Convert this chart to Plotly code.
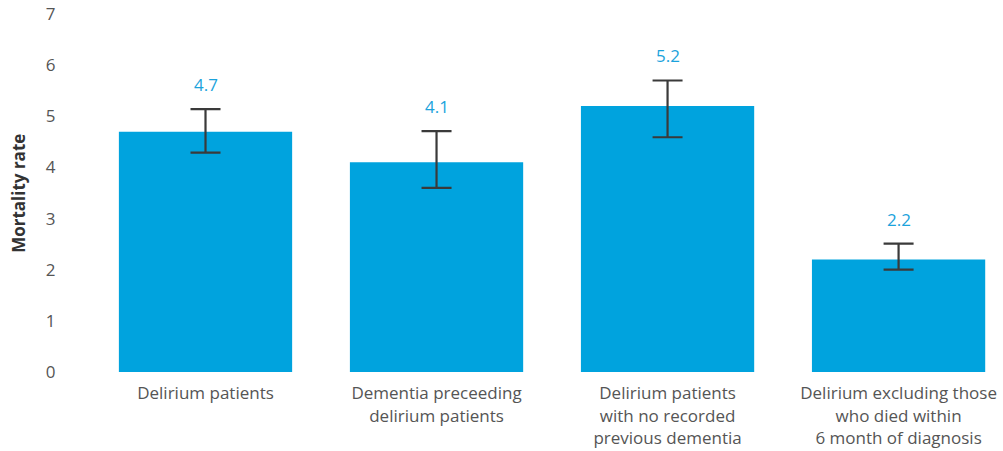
import plotly.graph_objects as go

categories = [
    "Delirium patients",
    "Dementia preceeding<br>delirium patients",
    "Delirium patients<br>with no recorded<br>previous dementia",
    "Delirium excluding those<br>who died within<br>6 month of diagnosis",
]
rates = [4.7, 4.1, 5.2, 2.2]
upper = [5.14, 4.71, 5.70, 2.51]
lower = [4.29, 3.60, 4.59, 2.00]
value_labels = ["4.7", "4.1", "5.2", "2.2"]

err_plus = [u - r for u, r in zip(upper, rates)]
err_minus = [r - l for r, l in zip(rates, lower)]

BAR = "#00A3DE"
FONT = "Open Sans"

fig = go.Figure()
fig.add_trace(go.Bar(
    x=categories, y=rates,
    marker=dict(color=BAR, line=dict(width=0)),
    error_y=dict(type="data", symmetric=False, array=err_plus, arrayminus=err_minus,
                 color="#3a3a3a", thickness=2.2, width=15),
    hoverinfo="skip",
))

for c, u, t in zip(categories, upper, value_labels):
    fig.add_annotation(x=c, y=u, text=t, showarrow=False, yanchor="bottom", yshift=11,
                       font=dict(family=FONT, size=17, color="#1ba3dc"))

fig.add_annotation(xref="paper", yref="paper", x=-0.079, y=0.5, xanchor="center",
                   yanchor="middle", text="<b>Mortality rate</b>",
                   textangle=-90, showarrow=False,
                   font=dict(family=FONT, size=17, color="#333333"))

fig.update_layout(
    width=1003, height=451,
    margin=dict(l=90, r=0, t=14, b=79, autoexpand=False),
    paper_bgcolor="white", plot_bgcolor="white",
    bargap=0.25,
    showlegend=False,
    font=dict(family=FONT, size=16, color="#555555"),
    xaxis=dict(range=[-0.5, 3.452], showgrid=False, zeroline=False, showline=False,
               automargin=False,
               ticks="outside", ticklen=6, tickcolor="rgba(0,0,0,0)",
               tickfont=dict(family=FONT, size=17, color="#555555")),
    yaxis=dict(range=[0, 7], dtick=1, showgrid=False, zeroline=False, showline=False,
               automargin=False,
               ticks="outside", ticklen=30, tickcolor="rgba(0,0,0,0)",
               ticklabeloverflow="allow",
               tickfont=dict(family=FONT, size=17, color="#555555")),
)

fig.write_html("out.html", config={"displayModeBar": False},
               post_script="document.body.style.margin='0';")
